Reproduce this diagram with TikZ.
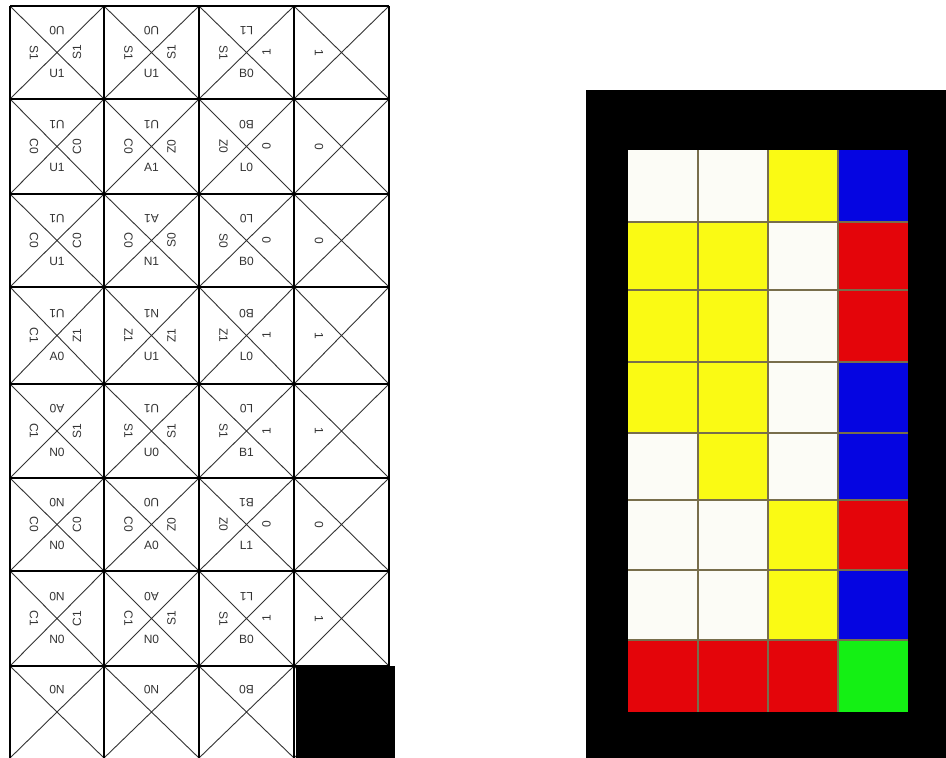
\documentclass[tikz,border=0pt]{standalone}
\usepackage{fontspec}
\setmainfont{Liberation Sans}
\definecolor{cW}{RGB}{252,252,246}
\definecolor{cY}{RGB}{250,250,20}
\definecolor{cB}{RGB}{5,5,225}
\definecolor{cR}{RGB}{228,5,10}
\definecolor{cG}{RGB}{20,240,20}
\definecolor{sep}{RGB}{120,110,75}
\begin{document}
\begin{tikzpicture}[x=1pt,y=-1pt,
  lbl/.style={inner sep=0pt, font=\fontsize{12}{14}\selectfont, text=black!80},
  gridline/.style={line width=1.8pt, black},
  diag/.style={line width=0.9pt, black!80},
  cellbox/.style={draw=sep, line width=2pt},
]
\useasboundingbox (0,0) rectangle (946,758);
\fill[white] (0,0) rectangle (946,758);
\def\xs{{10,104,199,294,389}}
\def\ys{{6,99,194,287,384,478,571,666,758}}
% diagonals
\foreach \r in {1,...,8}{
  \foreach \c in {1,...,4}{
    \pgfmathsetmacro\xa{\xs[\c-1]}
    \pgfmathsetmacro\xb{\xs[\c]}
    \pgfmathsetmacro\ya{\ys[\r-1]}
    \pgfmathsetmacro\yb{\ys[\r]}
    \draw[diag] (\xa,\ya) -- (\xb,\yb) (\xa,\yb) -- (\xb,\ya);
  }
}
% grid lines
\foreach \i in {0,...,4}{
  \pgfmathsetmacro\xx{\xs[\i]}
  \draw[gridline] (\xx,6) -- (\xx,758);
}
\foreach \j in {0,...,7}{
  \pgfmathsetmacro\yy{\ys[\j]}
  \draw[gridline] (10,\yy) -- (389,\yy);
}
\fill[black] (296,666) rectangle (395,758);
% labels
\foreach \r/\c/\t/\l/\q/\b in {
  1/1/U0/S1/S1/U1, 1/2/U0/S1/S1/U1, 1/3/L1/S1/1/B0,
  2/1/U1/C0/C0/U1, 2/2/U1/C0/Z0/A1, 2/3/B0/Z0/0/L0,
  3/1/U1/C0/C0/U1, 3/2/A1/C0/S0/N1, 3/3/L0/S0/0/B0,
  4/1/U1/C1/Z1/A0, 4/2/N1/Z1/Z1/U1, 4/3/B0/Z1/1/L0,
  5/1/A0/C1/S1/N0, 5/2/U1/S1/S1/U0, 5/3/L0/S1/1/B1,
  6/1/N0/C0/C0/N0, 6/2/U0/C0/Z0/A0, 6/3/B1/Z0/0/L1,
  7/1/N0/C1/C1/N0, 7/2/A0/C1/S1/N0, 7/3/L1/S1/1/B0}{
  \pgfmathsetmacro\xa{\xs[\c-1]}
  \pgfmathsetmacro\xb{\xs[\c]}
  \pgfmathsetmacro\ya{\ys[\r-1]}
  \pgfmathsetmacro\yb{\ys[\r]}
  \pgfmathsetmacro\cx{(\xa+\xb)/2}
  \pgfmathsetmacro\cy{(\ya+\yb)/2}
  \node[lbl, rotate=180] (t\r\c) at (\cx,\cy-22) {\t};
  \node[lbl, rotate=-90] (l\r\c) at (\cx-23,\cy) {\l};
  \node[lbl, rotate=90]  (r\r\c) at (\cx+20,\cy) {\q};
  \node[lbl] (b\r\c) at (\cx,\cy+21) {\b};
}
\foreach \r/\v in {1/1,2/0,3/0,4/1,5/1,6/0,7/1}{
  \pgfmathsetmacro\ya{\ys[\r-1]}
  \pgfmathsetmacro\yb{\ys[\r]}
  \pgfmathsetmacro\cy{(\ya+\yb)/2}
  \node[lbl, rotate=-90] (l\r4) at (319,\cy) {\v};
}
\foreach \c/\t in {1/N0,2/N0,3/B0}{
  \pgfmathsetmacro\xa{\xs[\c-1]}
  \pgfmathsetmacro\xb{\xs[\c]}
  \pgfmathsetmacro\cx{(\xa+\xb)/2}
  \node[lbl, rotate=180] (t8\c) at (\cx,690) {\t};
}
% right panel
\fill[black] (586,90) rectangle (946,758);
\def\px{{628,698,768,838,908}}
\def\py{{150,222,290,362,433,500,570,640,712}}
\foreach \r/\ca/\cb/\cc/\cd in {
  1/cW/cW/cY/cB, 2/cY/cY/cW/cR, 3/cY/cY/cW/cR, 4/cY/cY/cW/cB,
  5/cW/cY/cW/cB, 6/cW/cW/cY/cR, 7/cW/cW/cY/cB, 8/cR/cR/cR/cG}{
  \pgfmathsetmacro\ya{\py[\r-1]}
  \pgfmathsetmacro\yb{\py[\r]}
  \foreach \c/\col in {1/\ca,2/\cb,3/\cc,4/\cd}{
    \pgfmathsetmacro\xa{\px[\c-1]}
    \pgfmathsetmacro\xb{\px[\c]}
    \fill[\col] (\xa,\ya) rectangle (\xb,\yb);
  }
}
\foreach \i in {1,2,3}{
  \pgfmathsetmacro\xx{\px[\i]}
  \draw[cellbox] (\xx,150) -- (\xx,712);
}
\foreach \j in {1,...,7}{
  \pgfmathsetmacro\yy{\py[\j]}
  \draw[cellbox] (628,\yy) -- (908,\yy);
}
\end{tikzpicture}
\end{document}
